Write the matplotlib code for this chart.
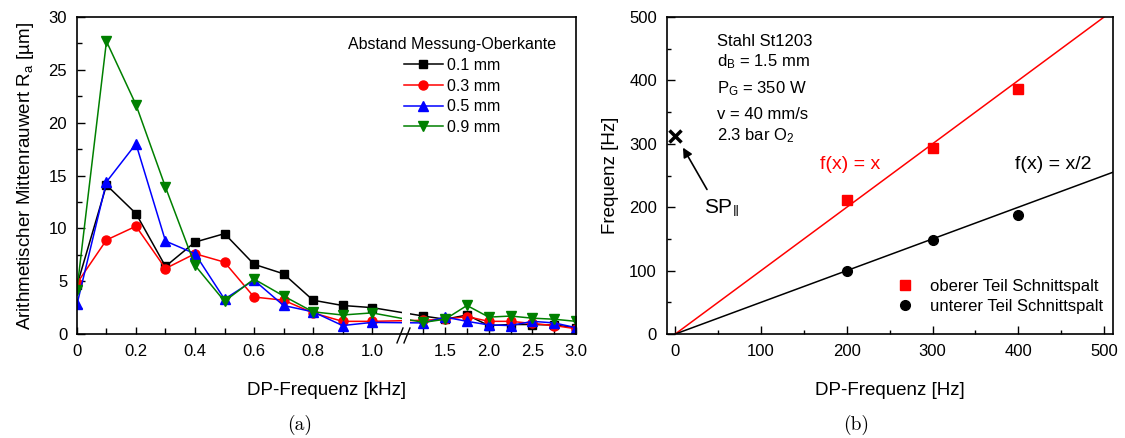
import matplotlib
matplotlib.use("Agg")
import matplotlib.pyplot as plt
import numpy as np

plt.rcParams["font.family"] = ["Liberation Sans", "DejaVu Sans"]
plt.rcParams["mathtext.fontset"] = "custom"
plt.rcParams["mathtext.rm"] = "Liberation Sans"
plt.rcParams["mathtext.it"] = "Liberation Sans:italic"
plt.rcParams["mathtext.sf"] = "Liberation Sans"

# ---- (a) roughness vs DP frequency ----
freq_khz = [0, 0.1, 0.2, 0.3, 0.4, 0.5, 0.6, 0.7, 0.8, 0.9, 1.0,
            1.25, 1.5, 1.75, 2.0, 2.25, 2.5, 2.75, 3.0]
ra_01 = [4.6, 14.1, 11.4, 6.4, 8.7, 9.5, 6.6, 5.7, 3.2, 2.7, 2.5,
         1.7, 1.4, 1.8, 0.8, 0.9, 0.9, 0.85, 0.6]
ra_03 = [4.8, 8.9, 10.2, 6.2, 7.6, 6.8, 3.5, 3.2, 2.0, 1.2, 1.2,
         1.3, 1.4, 1.65, 1.2, 1.2, 1.0, 0.8, 0.5]
ra_05 = [2.8, 14.4, 18.0, 8.8, 7.6, 3.3, 5.1, 2.7, 2.1, 0.8, 1.1,
         1.05, 1.6, 1.2, 0.86, 0.8, 1.2, 1.05, 0.6]
ra_09 = [4.2, 27.7, 21.7, 13.9, 6.5, 3.1, 5.2, 3.6, 2.1, 1.8, 2.0,
         1.1, 1.4, 2.7, 1.6, 1.7, 1.5, 1.4, 1.2]
series_a = [("0.1 mm", ra_01, "black", "s", 5.5),
            ("0.3 mm", ra_03, "red", "o", 6.5),
            ("0.5 mm", ra_05, "blue", "^", 7),
            ("0.9 mm", ra_09, "green", "v", 7)]
xticks_major = [0, 0.2, 0.4, 0.6, 0.8, 1.0, 1.5, 2.0, 2.5, 3.0]
xticks_minor = [0.1, 0.3, 0.5, 0.7, 0.9, 1.25, 1.75, 2.25, 2.75]
xtick_labels = ["0", "0.2", "0.4", "0.6", "0.8", "1.0", "1.5", "2.0", "2.5", "3.0"]

# ---- (b) frequency of striations ----
dp_hz = [200, 300, 400]
f_upper = [212, 293, 387]
f_lower = [100, 148, 188]
line_x = [0, 510]
line_full = [0, 510]
line_half = [0, 255]
sp_point = (0, 313)

# broken x-axis: 0..1.1 at full scale, 1.0..3.0 compressed
B1, R = 1.1, 0.2955


def fwd(x):
    x = np.asarray(x, float)
    return np.where(x <= B1, x, B1 + (x - 1.0) * R)


def inv(y):
    y = np.asarray(y, float)
    return np.where(y <= B1, y, 1.0 + (y - B1) / R)


fig = plt.figure(figsize=(11.25, 4.38), dpi=100)
ax1 = fig.add_axes([0.0684, 0.2374, 0.4436, 0.7237])
ax2 = fig.add_axes([0.5926, 0.2374, 0.3964, 0.7237])

ax1.set_xscale("function", functions=(fwd, inv))
for lab, y, c, m, ms in series_a:
    ax1.plot(freq_khz, y, color=c, marker=m, ms=ms, lw=1.1, label=lab, zorder=2)
ax1.set_xlim(0, 3.0)
ax1.set_ylim(0, 30)
ax1.set_xticks(xticks_major)
ax1.set_xticklabels(xtick_labels)
ax1.set_xticks(xticks_minor, minor=True)
ax1.set_yticks(range(0, 31, 5))
ax1.set_yticks(np.arange(2.5, 30, 5), minor=True)
ax1.tick_params(which="both", direction="in", labelsize=12, pad=7, width=1)
ax1.tick_params(axis="x", which="major", length=5)
ax1.tick_params(axis="x", which="minor", length=4)
ax1.tick_params(axis="y", which="major", length=5.5)
ax1.tick_params(axis="y", which="minor", length=3.5)
ax1.set_xlabel("DP-Frequenz [kHz]", fontsize=13.5, labelpad=17)
ax1.set_ylabel(r"Arithmetischer Mittenrauwert R$_\mathrm{a}$ [µm]", fontsize=13.5, labelpad=9)

# gap + break marks
ax1.add_patch(plt.Rectangle((0.6513, 0.0), 0.0165, 1.0, transform=ax1.transAxes,
                            facecolor="white", edgecolor="none", zorder=2.3, clip_on=False))
for x0 in (0.6413, 0.6553):
    ax1.plot([x0, x0 + 0.012], [-0.028, 0.019], color="black", lw=1,
             transform=ax1.transAxes, clip_on=False, zorder=5)

leg = ax1.legend(title="Abstand Messung-Oberkante", frameon=False, fontsize=11.5,
                 title_fontsize=11.5, loc="upper right", bbox_to_anchor=(0.976, 0.962),
                 borderpad=0, handlelength=2.45, handletextpad=0.25, labelspacing=0.36)

for sp in ax1.spines.values():
    sp.set_linewidth(1.2)

# ---- right panel ----
ax2.plot(line_x, line_full, color="red", lw=1.1)
ax2.plot(line_x, line_half, color="black", lw=1.1)
ax2.plot(dp_hz, f_upper, ls="none", marker="s", ms=6.5, color="red",
         label="oberer Teil Schnittspalt")
ax2.plot(dp_hz, f_lower, ls="none", marker="o", ms=7, color="black",
         label="unterer Teil Schnittspalt")
ax2.plot([sp_point[0]], [sp_point[1]], ls="none", marker="x", ms=9, mew=2.5,
         color="black", clip_on=False)
ax2.annotate("", xy=(9, 294), xytext=(37, 228),
             arrowprops=dict(arrowstyle="-|>", color="black", lw=1.2,
                             mutation_scale=14, shrinkA=0, shrinkB=0))
ax2.text(33, 190, r"SP$_{\Vert}$", fontsize=15, ha="left", va="baseline")
ax2.text(169, 261, "f(x) = x", color="red", fontsize=14, ha="left", va="baseline")
ax2.text(396, 261, "f(x) = x/2", color="black", fontsize=14, ha="left", va="baseline")

info = ["Stahl St1203", r"d$_\mathrm{B}$ = 1.5 mm", r"P$_\mathrm{G}$ = 350 W",
        "v = 40 mm/s", r"2.3 bar O$_\mathrm{2}$"]
info_y = [0.909, 0.844, 0.760, 0.678, 0.611]
for t, yy in zip(info, info_y):
    ax2.text(0.112, yy, t, transform=ax2.transAxes, fontsize=12, ha="left", va="baseline")

ax2.set_xlim(-10, 510)
ax2.set_ylim(0, 500)
ax2.set_xticks(range(0, 501, 100))
ax2.set_xticks(range(50, 501, 100), minor=True)
ax2.set_yticks(range(0, 501, 100))
ax2.set_yticks(range(50, 501, 100), minor=True)
ax2.tick_params(which="both", direction="in", labelsize=12, pad=7, width=1)
ax2.tick_params(which="major", length=5.5)
ax2.tick_params(which="minor", length=3)
ax2.set_xlabel("DP-Frequenz [Hz]", fontsize=13.5, labelpad=17)
ax2.set_ylabel("Frequenz [Hz]", fontsize=13.5, labelpad=7)
ax2.legend(frameon=False, fontsize=12, loc="lower left", bbox_to_anchor=(0.496, 0.036),
           borderpad=0, handlelength=1.0, handletextpad=1.0, labelspacing=0.3,
           numpoints=1)
for sp in ax2.spines.values():
    sp.set_linewidth(1.2)

fig.text(300 / 1125, 1 - 425 / 438, "(a)", family="cmr10", fontsize=14, ha="center", va="center")
fig.text(856 / 1125, 1 - 425 / 438, "(b)", family="cmr10", fontsize=14, ha="center", va="center")

fig.savefig("out.png", dpi=100)
